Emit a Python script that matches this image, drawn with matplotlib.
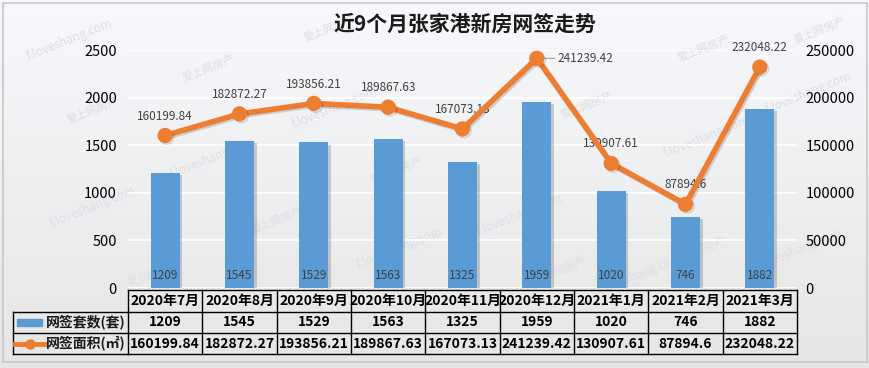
import matplotlib
matplotlib.use("Agg")
import matplotlib.pyplot as plt
import matplotlib.patheffects as pe
from matplotlib.transforms import blended_transform_factory
import numpy as np

plt.rcParams['font.family'] = ['Noto Sans CJK SC', 'DejaVu Sans']

# === Data ===
months = ["2020年7月", "2020年8月", "2020年9月", "2020年10月", "2020年11月",
          "2020年12月", "2021年1月", "2021年2月", "2021年3月"]
units = [1209, 1545, 1529, 1563, 1325, 1959, 1020, 746, 1882]
area = [160199.84, 182872.27, 193856.21, 189867.63, 167073.13,
        241239.42, 130907.61, 87894.6, 232048.22]
area_text = ["160199.84", "182872.27", "193856.21", "189867.63", "167073.13",
             "241239.42", "130907.61", "87894.6", "232048.22"]
row_names = ["网签套数(套)", "网签面积(㎡)"]

BAR_C = '#5b9bd5'
LINE_C = '#ed7d31'
W, H = 870, 368

def fy(py):
    return 1 - py / H

def fx(px):
    return px / W

fig = plt.figure(figsize=(W / 100, H / 100), dpi=100)

# === Background ===
bg = fig.add_axes([0, 0, 1, 1], zorder=-10)
grad = np.linspace(0, 1, 256).reshape(-1, 1)
top = np.array([0.965, 0.973, 0.985])
bot = np.array([0.90, 0.90, 0.90])
img = top[None, None, :] * (1 - grad[:, :, None]) + bot[None, None, :] * grad[:, :, None]
bg.imshow(img, aspect='auto', extent=[0, 1, 0, 1])
bg.add_patch(plt.Rectangle((fx(3), fy(362)), fx(864), fy(3) - fy(362),
                           fill=False, ec='#c8c8c8', lw=1.2))
bg.set_xlim(0, 1)
bg.set_ylim(0, 1)
bg.axis('off')

# watermarks (site stamp, pixel positions)
wm_cn = [(93, 110), (209, 68), (277, 220), (153, 273), (397, 170), (330, 28),
         (587, 105), (704, 48), (560, 270), (700, 250), (820, 30)]
wm_en = [(93, 207), (213, 158), (335, 108), (400, 248), (520, 215), (707, 137),
         (809, 93), (70, 40), (640, 275), (800, 250)]
for px, py in wm_cn:
    bg.text(fx(px), fy(py), "爱上网房产", rotation=22, ha='center', va='center',
            fontsize=8, color='#dcdee2', zorder=1)
for px, py in wm_en:
    bg.text(fx(px), fy(py), "f.loveshang.com", rotation=22, ha='center', va='center',
            fontsize=8.5, color='#dcdee2', zorder=1)

# === Main axes ===
ax = fig.add_axes([fx(128), fy(288), fx(797) - fx(128), fy(50) - fy(288)])
ax.patch.set_alpha(0)
x = np.arange(len(months))
ax.set_xlim(-0.5, len(months) - 0.5)
ax.set_ylim(0, 2500)
ax.set_yticks(np.arange(0, 2501, 500))
ax.yaxis.grid(True, color='white', lw=1.2)
ax.set_axisbelow(True)
for s in ax.spines.values():
    s.set_visible(False)
ax.tick_params(axis='y', length=0, pad=8, labelsize=10.5)
ax.set_xticks([])

bars = ax.bar(x, units, width=0.39, color=BAR_C, zorder=2)
for b in bars:
    b.set_path_effects([pe.SimplePatchShadow(offset=(2, -1.5), alpha=0.22, shadow_rgbFace='#333333'),
                        pe.Normal()])
for xi, u in zip(x, units):
    ax.text(xi, 130, str(u), ha='center', va='center', fontsize=8.5, color='#404040', zorder=3)

ax2 = ax.twinx()
ax2.set_ylim(0, 250000)
ax2.set_yticks(np.arange(0, 250001, 50000))
for s in ax2.spines.values():
    s.set_visible(False)
ax2.tick_params(axis='y', length=0, pad=6, labelsize=10.5)
ax2.plot(x, area, color=LINE_C, lw=4, marker='o', ms=10, zorder=4,
         path_effects=[pe.SimpleLineShadow(offset=(1.2, -1.2), alpha=0.15, shadow_color='black'),
                       pe.Normal()])

for i, (xi, a, t) in enumerate(zip(x, area, area_text)):
    if i == 5:
        ax2.annotate(t, (xi, a), xytext=(15, 0), textcoords='offset points',
                     ha='left', va='center', fontsize=8.5, color='#404040',
                     arrowprops=dict(arrowstyle='-', color='#a0a0a0', lw=0.8,
                                     shrinkA=0, shrinkB=4))
    else:
        ax2.annotate(t, (xi, a), xytext=(0, 14), textcoords='offset points',
                     ha='center', va='center', fontsize=8.5, color='#404040')

fig.text(0.535, fy(24), "近9个月张家港新房网签走势", ha='center', va='center',
         fontsize=15, fontweight='bold', color='#1a1a1a')

# === Data table ===
tr = blended_transform_factory(ax.transData, fig.transFigure)
rows_y = [290, 312, 333, 354]
lw = 1.0
x0, x1 = -0.5, len(months) - 0.5
for k, py in enumerate(rows_y):
    fig.add_artist(plt.Line2D([x0, x1], [fy(py), fy(py)], transform=tr, color='black', lw=lw))
    if k >= 1:
        fig.add_artist(plt.Line2D([fx(13), fx(128)], [fy(py), fy(py)], color='black', lw=lw))
for b in np.arange(len(months) + 1) - 0.5:
    fig.add_artist(plt.Line2D([b, b], [fy(290), fy(354)], transform=tr, color='black', lw=lw))
fig.add_artist(plt.Line2D([fx(13), fx(13)], [fy(312), fy(354)], color='black', lw=lw))

cell_mid = [(rows_y[j] + rows_y[j + 1]) / 2 for j in range(3)]
for xi, m, u, t in zip(x, months, units, area_text):
    fig.text(xi, fy(cell_mid[0]), m, transform=tr, ha='center', va='center',
             fontsize=10, fontweight='bold', color='black')
    fig.text(xi, fy(cell_mid[1]), str(u), transform=tr, ha='center', va='center',
             fontsize=10, fontweight='bold', color='black')
    fig.text(xi, fy(cell_mid[2]), t, transform=tr, ha='center', va='center',
             fontsize=10, fontweight='bold', color='black')

# legend keys in row labels
fig.add_artist(plt.Rectangle((fx(17), fy(326)), fx(42) - fx(17), fy(319) - fy(326),
                             color=BAR_C))
fig.add_artist(plt.Line2D([fx(15), fx(45)], [fy(cell_mid[2]), fy(cell_mid[2])],
                          color=LINE_C, lw=3.5))
fig.add_artist(plt.Line2D([fx(30)], [fy(cell_mid[2])], color=LINE_C, marker='o', ms=6.5, lw=0))
for name, cm in zip(row_names, cell_mid[1:]):
    fig.text(fx(86), fy(cm), name, ha='center', va='center',
             fontsize=10, fontweight='bold', color='#1a1a1a')

fig.savefig("out.png", dpi=100)
